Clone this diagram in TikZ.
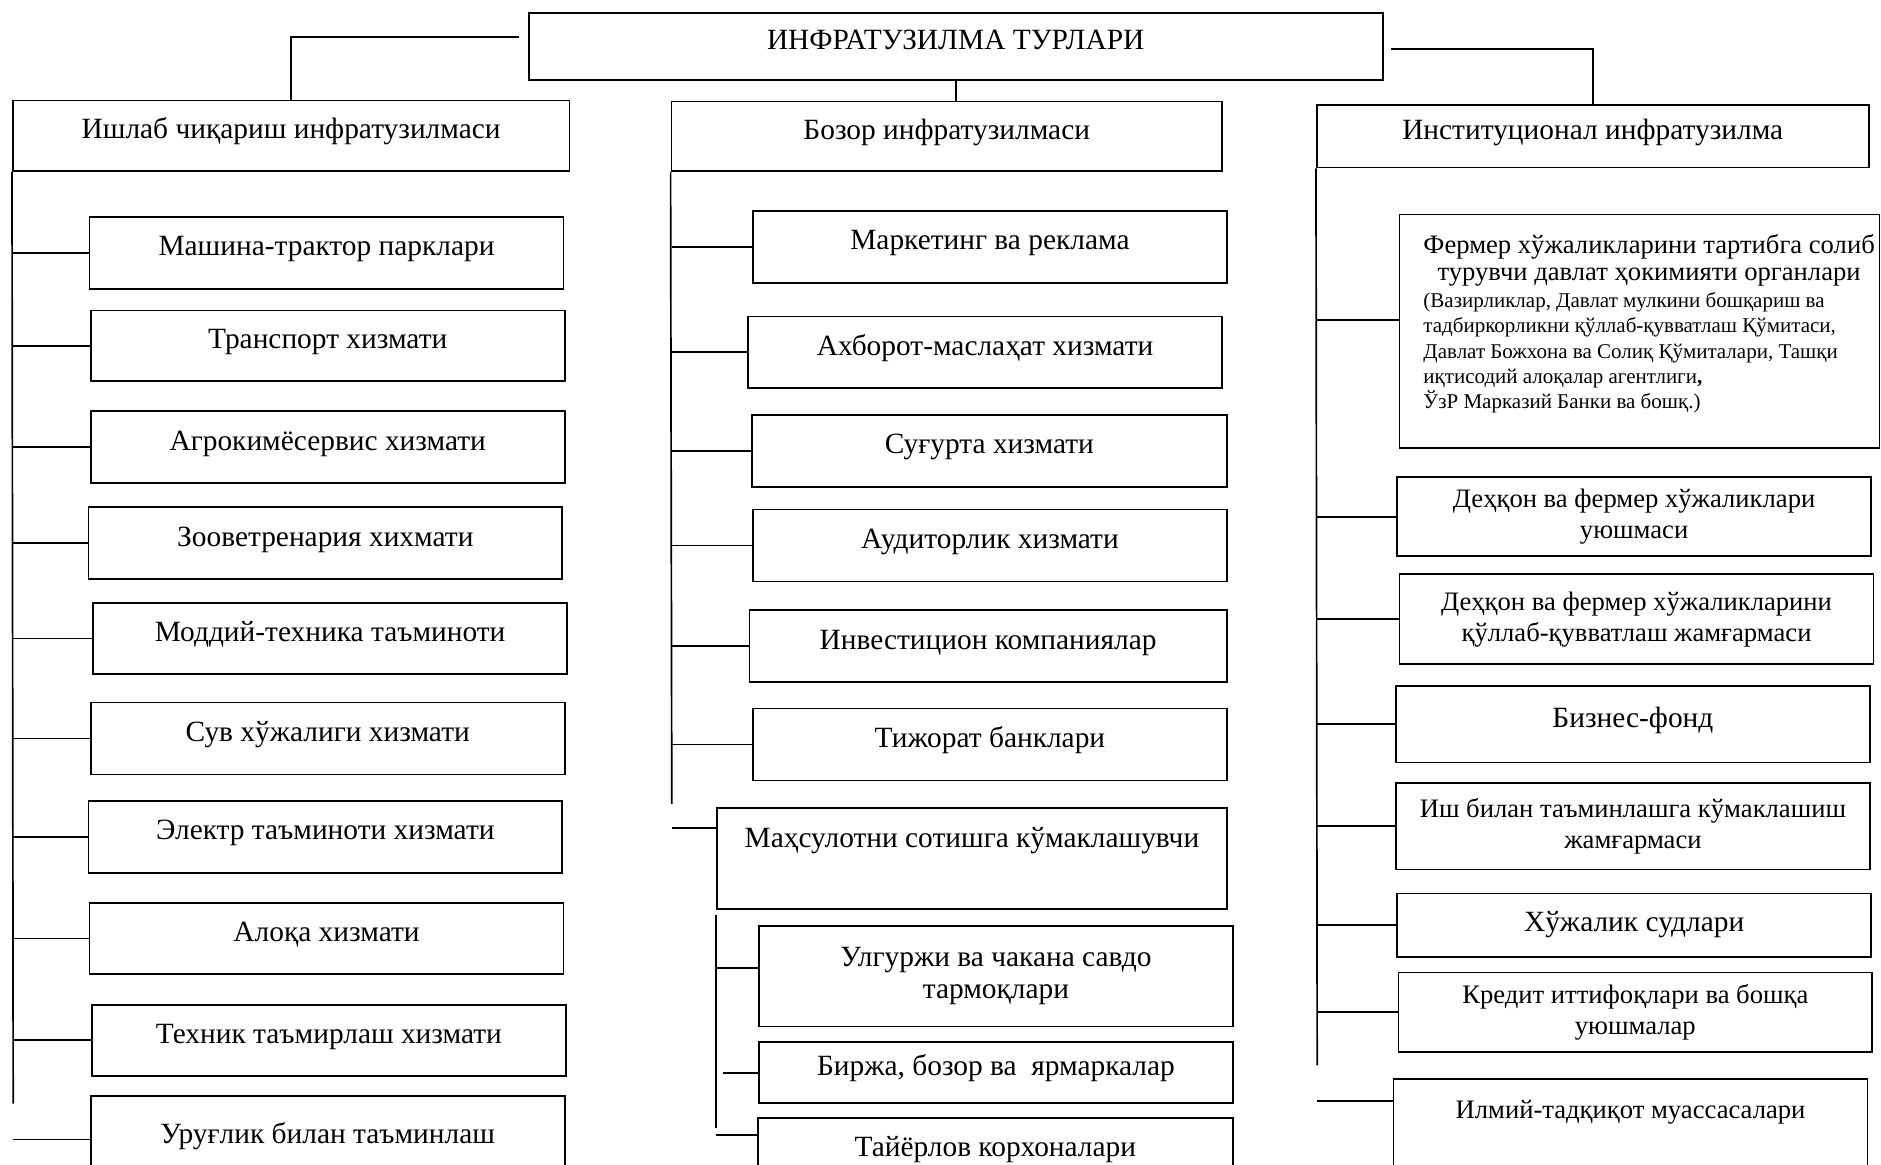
\documentclass[tikz,border=0pt]{standalone}
\usepackage{fontspec}
\setmainfont{Liberation Serif}

\begin{document}
\begin{tikzpicture}[x=1pt,y=-1pt,line width=1.4pt,
  font=\fontsize{24.5pt}{27pt}\selectfont,
  box/.style={draw,anchor=north west,inner sep=0pt,text height=17pt,text depth=12pt},
  tallbox/.style={box,text depth=35pt},
  twoline/.style={draw,anchor=north west,inner sep=0pt,align=center},
  smaller/.style={font=\fontsize{22.2pt}{26pt}\selectfont}]
  \useasboundingbox (0,0) rectangle (1568,971);

  % Yuqori qism
  \node[box,minimum width=712pt,minimum height=56pt] (turlar) at (440,10) {ИНФРАТУЗИЛМА ТУРЛАРИ};
  \node[box,minimum width=464pt,minimum height=59pt] (prod) at (10,83) {Ишлаб чиқариш инфратузилмаси};
  \node[box,minimum width=459pt,minimum height=58pt] (bozor) at (559,84) {Бозор инфратузилмаси};
  \node[box,minimum width=460pt,minimum height=52pt] (inst) at (1097,87) {Институционал инфратузилма};

  \draw (turlar.west) ++(-7,-8) -| (prod.north);
  \draw (turlar.south) -- (turlar.south |- bozor.north);
  \draw (turlar.east) ++(6,2) -| (inst.north);

  % Ishlab chiqarish
  \node[box,minimum width=395pt,minimum height=60pt] (p1) at (74,180) {Машина-трактор парклари};
  \node[box,minimum width=395pt,minimum height=59pt] (p2) at (75,258) {Транспорт хизмати};
  \node[box,minimum width=395pt,minimum height=60pt] (p3) at (75,342) {Агрокимёсервис хизмати};
  \node[box,minimum width=395pt,minimum height=60pt] (p4) at (73,422) {Зооветренария хихмати};
  \node[box,minimum width=395pt,minimum height=59pt] (p5) at (77,502) {Моддий-техника таъминоти};
  \node[box,minimum width=395pt,minimum height=60pt] (p6) at (75,585) {Сув хўжалиги хизмати};
  \node[box,minimum width=395pt,minimum height=60pt] (p7) at (73,667) {Электр таъминоти хизмати};
  \node[box,minimum width=395pt,minimum height=59pt] (p8) at (74,752) {Алоқа хизмати};
  \node[box,minimum width=395pt,minimum height=59pt] (p9) at (76,837) {Техник таъмирлаш хизмати};
  \node[box,minimum width=395pt,minimum height=74pt] (p10) at (75,913) {Уруғлик билан таъминлаш};

  \coordinate (prodEnd) at (11,920);
  \draw (prod.south west) -- (prodEnd);
  \foreach \n in {p1,p2,p3,p4,p5,p6,p7,p8,p9}
    \draw (\n.west) -- (\n.west -| prodEnd);
  \coordinate (p10in) at ([yshift=-37pt]p10.north west);
  \draw (p10in) -- (p10in -| prodEnd);

  % Bozor
  \node[box,minimum width=395pt,minimum height=60pt] (b1) at (627,175) {Маркетинг ва реклама};
  \node[box,minimum width=395pt,minimum height=60pt] (b2) at (623,263) {Ахборот-маслаҳат хизмати};
  \node[box,minimum width=396pt,minimum height=60pt] (b3) at (626,345) {Суғурта хизмати};
  \node[box,minimum width=395pt,minimum height=60pt] (b4) at (627,424) {Аудиторлик хизмати};
  \node[box,minimum width=398pt,minimum height=60pt] (b5) at (624,508) {Инвестицион компаниялар};
  \node[box,minimum width=395pt,minimum height=60pt] (b6) at (627,590) {Тижорат банклари};
  \node[tallbox,minimum width=425pt,minimum height=84pt] (sales) at (597,673) {Маҳсулотни сотишга кўмаклашувчи};
  \node[twoline,minimum width=395pt,minimum height=84pt] (s1) at (632,771) {Улгуржи ва чакана савдо\\тармоқлари};
  \node[box,minimum width=395pt,minimum height=51pt] (s2) at (632,868) {Биржа, бозор ва~ ярмаркалар};
  \node[box,minimum width=396pt,minimum height=60pt] (s3) at (631,931) {Тайёрлов корхоналари};

  \coordinate (bozorEnd) at (560,670);
  \draw (bozor.south west) -- (bozorEnd);
  \foreach \n in {b1,b2,b3,b4,b5,b6}
    \draw (\n.west) -- (\n.west -| bozorEnd);
  \coordinate (salesIn) at ([yshift=-17pt]sales.north west);
  \draw (salesIn) -- (salesIn -| bozorEnd);
  \coordinate (subTop) at (597,763);
  \coordinate (subEnd) at (597,940);
  \draw (subTop) -- (subEnd);
  \draw ([yshift=7pt]s1.west) -- ([yshift=7pt]s1.west -| subEnd);
  \draw (s2.west) -- ++(-29,0);
  \coordinate (s3in) at ([yshift=-15pt]s3.north west);
  \draw (s3in) -- (s3in -| subEnd);

  % Institutsional
  \node[draw,anchor=north west,inner sep=0pt,minimum width=400pt,minimum height=195pt,
        font=\fontsize{17.5pt}{21pt}\selectfont] (i1) at (1166,178)
    {\begin{tabular}{@{\hspace{16pt}}l@{}}
      \multicolumn{1}{@{\hspace{16pt}}c@{}}{\fontsize{22.2pt}{25pt}\selectfont Фермер хўжаликларини тартибга солиб}\\[1pt]
      \multicolumn{1}{@{\hspace{16pt}}c@{}}{\fontsize{22.2pt}{25pt}\selectfont турувчи давлат ҳокимияти органлари}\\[2pt]
      (Вазирликлар, Давлат мулкини бошқариш ва\\
      тадбиркорликни қўллаб-қувватлаш Қўмитаси,\\
      Давлат Божхона ва Солиқ Қўмиталари, Ташқи\\
      иқтисодий алоқалар агентлиги{\bfseries ,}\\
      ЎзР Марказий Банки ва бошқ.)\\[10pt]
    \end{tabular}};
  \node[twoline,smaller,minimum width=395pt,minimum height=66pt] (i2) at (1164,397) {Деҳқон ва фермер хўжаликлари\\уюшмаси};
  \node[twoline,smaller,minimum width=395pt,minimum height=75pt] (i3) at (1166,478) {Деҳқон ва фермер хўжаликларини\\қўллаб-қувватлаш жамғармаси};
  \node[box,minimum width=395pt,minimum height=64pt] (i4) at (1163,571) {Бизнес-фонд};
  \node[twoline,smaller,minimum width=395pt,minimum height=72pt] (i5) at (1163,652) {Иш билан таъминлашга кўмаклашиш\\жамғармаси};
  \node[box,minimum width=395pt,minimum height=53pt,text depth=7pt] (i6) at (1164,744) {Хўжалик судлари};
  \node[twoline,smaller,minimum width=395pt,minimum height=66pt] (i7) at (1165,810) {Кредит иттифоқлари ва бошқа\\уюшмалар};
  \node[tallbox,smaller,minimum width=395pt,minimum height=84pt] (i8) at (1161,899) {Илмий-тадқиқот муассасалари};

  \coordinate (instEnd) at (1098,888);
  \draw (inst.south west) -- (instEnd);
  \coordinate (i1in) at ([yshift=-89pt]i1.north west);
  \draw (i1in) -- (i1in -| instEnd);
  \foreach \n in {i2,i3,i4,i5,i6,i7}
    \draw (\n.west) -- (\n.west -| instEnd);
  \coordinate (i8in) at ([yshift=-19pt]i8.north west);
  \draw (i8in) -- (i8in -| instEnd);
\end{tikzpicture}
\end{document}
